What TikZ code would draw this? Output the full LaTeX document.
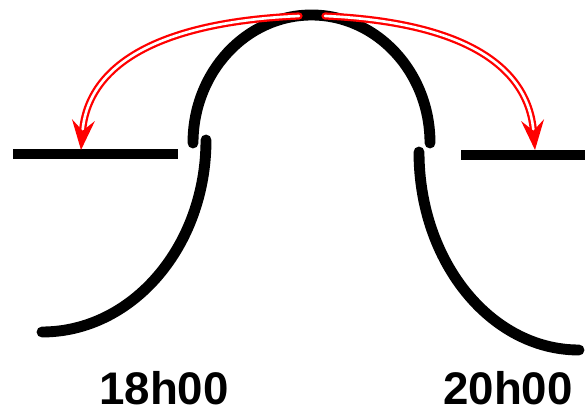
\documentclass[tikz,border=0pt]{standalone}
\usepackage{fontspec}
\setmainfont{Liberation Sans}
\usetikzlibrary{arrows.meta,positioning}
\definecolor{hopred}{RGB}{255,0,0}

\begin{document}
\begin{tikzpicture}[x=0.02cm,y=-0.02cm,
    wire/.style={line width=6.2pt,line cap=round,black},
    hop/.style={draw=hopred,double=white,line width=1.3pt,double distance=1.5pt,line cap=round,-{Stealth[hopred,length=17pt,width=13pt,inset=6pt]}},
    every node/.style={font=\fontsize{26}{30}\selectfont\bfseries}]
    \useasboundingbox (0,0) rectangle (585,412);
    % ground lines
    \draw[wire,line cap=butt] (13,154) -- (178,154);
    \draw[wire,line cap=butt] (461,155) -- (585,155);
    % arch and the two flanks
    \draw[wire] (193,143) arc[start angle=180,end angle=360,x radius=118.5,y radius=128];
    \draw[wire] (206,140) arc[start angle=0,end angle=90,x radius=164,y radius=192];
    \draw[wire] (419,152) arc[start angle=180,end angle=90,x radius=160,y radius=198];
    % hops
    \coordinate (topL) at (299,16);
    \coordinate (topR) at (325,16);
    \coordinate (landL) at (81,150);
    \coordinate (landR) at (535,150);
    \draw[hop] (topL) .. controls (160,22) and (88,64) .. (landL);
    \draw[hop] (topR) .. controls (460,22) and (528,64) .. (landR);
    % times
    \node[anchor=base] (t18) at (164,404) {18h00};
    \node[anchor=base] (t20) at (508,404) {20h00};
\end{tikzpicture}
\end{document}
